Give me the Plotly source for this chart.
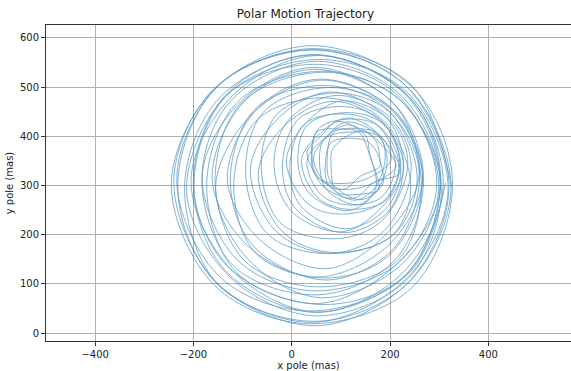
import plotly.graph_objects as go

# Pole coordinates in milliarcseconds, in time order
x_mas = [
    325, 244, 38, -160, -240, -150, 45, 232,
    318, 236, 55, -132, -214, -127, 50, 238,
    304, 221, 46, -125, -183, -118, 57, 211,
    268, 208, 45, -97, -162, -89, 50, 196,
    266, 200, 77, -56, -94, -47, 82, 188,
    243, 203, 90, -9, -36, 0, 103, 182,
    228, 183, 112, 31, 13, 39, 116, 172,
    194, 176, 112, 69, 44, 76, 115, 166,
    212, 184, 144, 85, 80, 91, 146, 176,
    160, 136, 104, 51, 40, 48, 103, 140,
    180, 160, 131, 81, 68, 75, 127, 169,
    190, 178, 114, 59, 20, 51, 109, 190,
    220, 183, 110, 15, -19, 6, 106, 196,
    227, 195, 80, -25, -84, -33, 76, 207,
    255, 196, 73, -72, -125, -80, 69, 207,
    260, 207, 46, -104, -182, -111, 43, 217,
    295, 218, 54, -131, -199, -136, 51, 226,
    308, 240, 45, -145, -218, -149, 51, 237,
    324, 235, 45, -153, -245, -155, 36, 245,
    327, 250, 41, -158, -232, -156, 50, 240,
    320, 229, 43, -149, -234, -145, 37, 232,
    302, 231, 41, -137, -200, -132, 52, 215,
    302, 222, 65, -102, -156, -95, 61, 220,
    263, 208, 57, -71, -131, -63, 70, 187,
    259, 198, 89, -30, -62, -21, 94, 185,
    236, 202, 103, 27, -11, 35, 108, 189,
    218, 179, 122, 54, 42, 62, 126, 168,
    220, 181, 134, 66, 58, 73, 136, 171,
    158, 150, 94, 60, 31, 61, 94, 148,
    202, 176, 142, 85, 72, 79, 139, 185,
    179, 170, 113, 67, 31, 59, 109, 181,
    211, 177, 113, 26, -4, 17, 108, 191,
    222, 193, 86, -12, -68, -20, 81, 205,
    242, 186, 70, -68, -118, -75, 66, 197,
    266, 217, 63, -80, -155, -87, 59, 226,
    299, 225, 68, -108, -173, -113, 66, 232,
    303, 238, 52, -120, -205, -123, 50, 242,
    313,
]
y_mas = [
    298, 503, 578, 494, 305, 100, 22, 110,
    290, 488, 556, 484, 290, 115, 35, 112,
    300, 484, 552, 471, 310, 136, 78, 150,
    318, 466, 536, 470, 313, 177, 114, 178,
    315, 456, 499, 451, 326, 199, 162, 208,
    336, 435, 483, 430, 339, 247, 206, 255,
    337, 427, 448, 422, 340, 281, 249, 288,
    351, 401, 429, 397, 354, 299, 292, 305,
    339, 381, 411, 377, 341, 287, 283, 292,
    357, 409, 414, 409, 356, 321, 292, 319,
    341, 385, 395, 388, 339, 301, 270, 295,
    356, 402, 437, 407, 353, 277, 252, 269,
    344, 431, 460, 436, 341, 255, 204, 247,
    338, 435, 490, 439, 335, 208, 162, 200,
    316, 453, 503, 458, 313, 179, 108, 172,
    322, 466, 540, 470, 320, 149, 86, 143,
    302, 481, 546, 484, 300, 128, 42, 123,
    300, 478, 565, 480, 299, 98, 24, 102,
    295, 500, 575, 501, 303, 95, 19, 93,
    302, 495, 584, 494, 295, 104, 15, 106,
    301, 505, 576, 503, 311, 113, 45, 117,
    309, 485, 566, 481, 303, 137, 60, 142,
    298, 472, 530, 468, 309, 146, 94, 153,
    315, 452, 516, 455, 310, 188, 131, 196,
    323, 450, 488, 445, 334, 222, 192, 230,
    344, 430, 472, 425, 348, 261, 242, 270,
    344, 419, 435, 415, 347, 300, 274, 307,
    326, 398, 409, 394, 328, 289, 261, 295,
    367, 401, 430, 401, 367, 311, 304, 312,
    352, 405, 415, 408, 350, 308, 271, 303,
    353, 392, 423, 396, 350, 282, 261, 275,
    341, 420, 445, 425, 338, 260, 212, 252,
    330, 419, 471, 424, 327, 207, 164, 199,
    302, 432, 478, 436, 307, 164, 112, 157,
    306, 443, 514, 446, 296, 148, 72, 142,
    297, 469, 532, 472, 304, 124, 58, 119,
    312, 481, 564, 483, 311, 129, 43, 126,
    305,
]

x_ticks = [-400, -200, 0, 200, 400]
y_ticks = [0, 100, 200, 300, 400, 500, 600]

fig = go.Figure(
    go.Scatter(
        x=x_mas,
        y=y_mas,
        mode="lines",
        line=dict(color="#1f77b4", width=0.8, shape="spline", smoothing=1.0),
        opacity=0.7,
        hoverinfo="skip",
    )
)

axis_common = dict(
    showgrid=True,
    gridcolor="#b0b0b0",
    gridwidth=0.8,
    zeroline=False,
    showline=True,
    linecolor="#333333",
    linewidth=1,
    ticks="outside",
    ticklen=4,
    tickcolor="#333333",
    tickfont=dict(family="DejaVu Sans", size=10, color="#222222"),
    title_font=dict(family="DejaVu Sans", size=10, color="#222222"),
)

fig.update_layout(
    width=571,
    height=371,
    margin=dict(l=46, r=0, t=25, b=30),
    paper_bgcolor="white",
    plot_bgcolor="white",
    showlegend=False,
    title=dict(
        text="Polar Motion Trajectory",
        x=0.535,
        xanchor="center",
        y=0.962,
        yanchor="middle",
        font=dict(family="DejaVu Sans", size=12, color="#222222"),
    ),
    xaxis=dict(
        range=[-500, 568],
        tickvals=x_ticks,
        title=dict(text="x pole (mas)", standoff=2),
        mirror=True,
        **axis_common,
    ),
    yaxis=dict(
        range=[-16, 626],
        tickvals=y_ticks,
        title=dict(text="y pole (mas)", standoff=4),
        **axis_common,
    ),
)

fig.write_html("out.html")
